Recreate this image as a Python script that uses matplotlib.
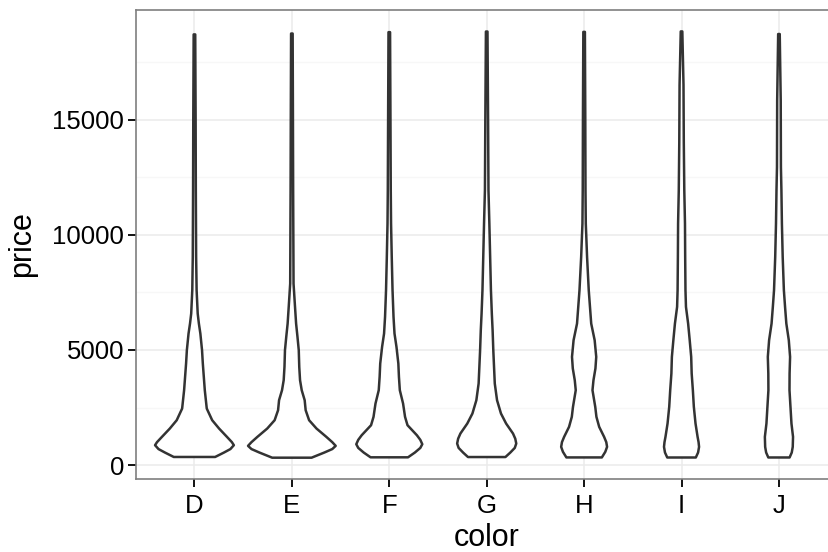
import numpy as np
import matplotlib
matplotlib.use("Agg")
import matplotlib.pyplot as plt
from matplotlib.ticker import FixedLocator

# diamond colours on the x axis
colors = ["D", "E", "F", "G", "H", "I", "J"]

# violin outlines: price levels and relative density
# (density scaled so that the widest violin of all is the largest number)
price_D = [357, 550, 700, 868, 1000, 1229, 1591, 1952, 2458, 3254, 4411, 4989, 5712, 6146, 6580, 7592, 9038, 11931, 15000, 18693]
dens_D = [21, 30, 36.5, 40, 38, 33, 25, 18, 12.5, 10.5, 8.5, 7.7, 6, 4.5, 3.3, 2.2, 1.7, 1.4, 1.2, 0.8]

price_E = [326, 550, 700, 839, 1000, 1229, 1591, 1952, 2386, 2820, 3254, 3688, 4266, 4989, 5567, 6146, 6869, 7881, 11931, 15000, 18731]
dens_E = [20, 33, 41, 44.5, 41, 35, 25, 17.5, 14, 13, 10, 8.3, 7.5, 7, 5.7, 4.3, 3.2, 1.7, 1.3, 1.1, 0.8]

price_F = [342, 550, 750, 911, 1100, 1301, 1735, 2097, 2675, 3254, 3832, 4411, 5134, 5712, 6435, 7592, 9038, 10484, 11931, 15000, 18791]
dens_F = [19, 26, 31.5, 33.5, 31.5, 28, 18.5, 16, 14, 10.7, 9.8, 9.2, 7.3, 5.3, 4.3, 3.3, 2.5, 1.8, 1.5, 1.2, 0.8]

price_G = [354, 550, 750, 940, 1150, 1374, 1808, 2241, 2820, 3543, 4411, 4989, 5857, 6580, 7592, 9038, 10484, 11931, 15000, 18818]
dens_G = [19, 24, 28.5, 30, 29, 26.7, 19.7, 14.5, 10.5, 8.2, 7.3, 6.7, 6, 5.2, 4.3, 3.5, 2.7, 1.8, 1.4, 0.8]

price_H = [337, 580, 795, 1000, 1229, 1663, 2097, 2531, 3254, 3688, 4200, 4700, 5423, 6146, 7592, 9038, 10484, 11931, 15000, 18803]
dens_H = [18, 21.5, 23.3, 22.5, 20.3, 15.3, 12.5, 11.3, 8.5, 9.5, 11.5, 12.3, 10.7, 7.2, 4.7, 3, 1.7, 1.4, 1.2, 0.8]

price_I = [334, 550, 795, 1000, 1229, 1808, 2531, 3254, 3977, 4700, 5423, 6146, 6869, 7592, 9038, 10484, 11931, 14000, 16500, 18823]
dens_I = [14.5, 16.8, 17.8, 17.3, 16.3, 14.2, 12.5, 11.5, 10.3, 9.8, 8.3, 6.7, 4.5, 4, 3.7, 3.5, 2.8, 2.3, 2, 0.8]

price_J = [335, 550, 795, 1229, 1808, 2531, 3254, 3977, 4700, 5423, 6146, 6869, 7592, 9038, 10484, 11931, 12940, 15835, 18710]
dens_J = [10.8, 13, 14, 14.3, 12.7, 11.7, 10.7, 10.8, 11.3, 10, 7.5, 6.2, 5, 3.8, 3, 2.5, 2, 1.8, 0.8]

y_ticks = [0, 5000, 10000, 15000]
y_minor = [2500, 7500, 12500, 17500]

profiles = [
    (price_D, dens_D), (price_E, dens_E), (price_F, dens_F), (price_G, dens_G),
    (price_H, dens_H), (price_I, dens_I), (price_J, dens_J),
]

plt.rcParams["font.family"] = ["Liberation Sans", "DejaVu Sans"]

W, H = 829, 552
fig = plt.figure(figsize=(W / 100, H / 100), dpi=100)
# panel box in pixels (right edge runs past the image edge like the original)
left_px, right_px, top_px, bot_px = 136, 837.4, 10.1, 479
ax = fig.add_axes([left_px / W, 1 - bot_px / H, (right_px - left_px) / W, (bot_px - top_px) / H])

line_col = "#333333"
max_dens = max(max(d) for _, d in profiles)

for i, (price, dens) in enumerate(profiles):
    xc = i + 1
    half = 0.45 * np.asarray(dens) / max_dens
    price = np.asarray(price)
    xs = np.concatenate([xc + half, (xc - half)[::-1]])
    ys = np.concatenate([price, price[::-1]])
    ax.fill(xs, ys, facecolor="white", edgecolor=line_col, linewidth=1.8,
            joinstyle="round", zorder=3)

ax.set_xlim(0.4, 7.6)
ax.set_ylim(-599, 19748)

ax.set_xticks(range(1, len(colors) + 1))
ax.set_xticklabels(colors)
ax.set_yticks(y_ticks)
ax.set_yticklabels([str(v) for v in y_ticks])
ax.yaxis.set_minor_locator(FixedLocator(y_minor))

ax.grid(True, which="major", color="#EBEBEB", linewidth=1.1, zorder=0)
ax.grid(True, which="minor", axis="y", color="#F7F7F7", linewidth=1.0, zorder=0)
ax.set_axisbelow(True)

for s in ax.spines.values():
    s.set_color("#7F7F7F")
    s.set_linewidth(1.2)

ax.tick_params(axis="both", which="major", length=5.5, width=1.3, color="black",
               labelsize=18.5, labelcolor="black", pad=5)
ax.tick_params(axis="y", which="major", pad=3)
ax.tick_params(axis="both", which="minor", length=0)

ax.set_xlabel("color", fontsize=22, labelpad=4)
ax.set_ylabel("price", fontsize=22, labelpad=11)

fig.savefig("out.png", dpi=100)
